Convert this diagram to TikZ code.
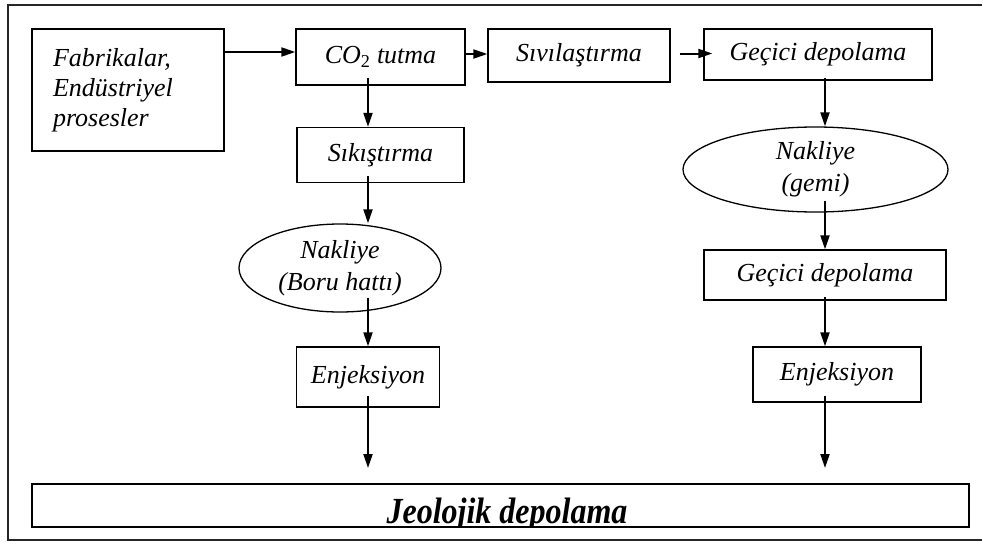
\documentclass[tikz,border=0pt]{standalone}
\usepackage{graphicx}
\usepackage{fontspec}
\setmainfont{Liberation Serif}
\usetikzlibrary{shapes.geometric,arrows.meta}

\tikzset{
  stage/.style={draw, line width=1.3pt, inner sep=0pt, font=\fontsize{26}{32}\selectfont\itshape},
  oval/.style={stage, ellipse},
  arr/.style={line width=2pt, -{Triangle[length=14pt,width=9pt]}}
}

\begin{document}
\begin{tikzpicture}[x=1pt,y=-1pt]
\useasboundingbox (0,0) rectangle (982,541);
\draw[line width=1.2pt, black!85] (8,5) rectangle (990,540);

% top row
\node[stage, minimum width=192pt, minimum height=122pt, text width=150pt, align=left] (fab) at (128,90)
  {Fabrikalar,\\[-2pt]Endüstriyel\\[-2pt]prosesler};
\node[stage, minimum width=169pt, minimum height=56pt] (co2) at (380.5,57) {CO\textsubscript{\upshape 2} tutma};
\node[stage, minimum width=182pt, minimum height=53pt] (siv) at (579,55.5) {Sıvılaştırma};
\node[stage, minimum width=228pt, minimum height=51pt] (gec1) at (818,54.5) {Geçici depolama};

% left column
\node[stage, minimum width=167pt, minimum height=55pt] (sik) at (380.5,155) {Sıkıştırma};
\node[oval, minimum width=202pt, minimum height=88pt, align=center] (nak1) at (340,268) {Nakliye\\(Boru hattı)};
\node[stage, minimum width=143pt, minimum height=60pt] (enj1) at (368,377) {Enjeksiyon};

% right column
\node[oval, minimum width=265pt, minimum height=85pt, align=center] (nak2) at (815.5,169.5) {Nakliye\\(gemi)};
\node[stage, minimum width=242pt, minimum height=50pt] (gec2) at (825,275) {Geçici depolama};
\node[stage, minimum width=168pt, minimum height=55pt] (enj2) at (837,374.5) {Enjeksiyon};

\coordinate (endL) at (368,468);
\coordinate (endR) at (825,468);

% bottom
\draw[line width=1.8pt] (32,484) rectangle (969,527);
\begin{scope}
\clip (32,484) rectangle (969,527);
\node[anchor=base, inner sep=0pt, font=\fontsize{32}{32}\selectfont\bfseries\itshape] (jeo) at (507,523)
  {\scalebox{1}[1.15]{Jeolojik depolama}};
\end{scope}

% arrows
\draw[arr] ([yshift=5pt]co2.west -| fab.east) -- ([yshift=5pt]co2.west);
\draw[arr] ([yshift=3pt]co2.east) -- ([yshift=3pt]co2.east -| siv.west);
\draw[arr] ([xshift=9pt,yshift=2pt]siv.east) -- ([xshift=9pt,yshift=2pt]siv.east -| gec1.west);

\draw[arr] ([yshift=8pt]co2.south -| enj1) -- (sik.north -| enj1);
\draw[arr] ([yshift=7pt]sik.south -| enj1) -- (enj1 |- nak1.north);
\draw[arr] ([yshift=15pt]nak1.south -| enj1) -- (enj1.north);
\draw[arr] ([yshift=12pt]enj1.south) -- (endL);

\draw[arr] ([yshift=3pt]gec1.south -| gec2) -- (nak2.north -| gec2);
\draw[arr] ([yshift=12pt]nak2.south -| gec2) -- (gec2.north);
\draw[arr] ([yshift=4pt]gec2.south) -- (enj2.north -| gec2);
\draw[arr] ([yshift=7pt]enj2.south -| gec2) -- (endR);
\end{tikzpicture}
\end{document}
